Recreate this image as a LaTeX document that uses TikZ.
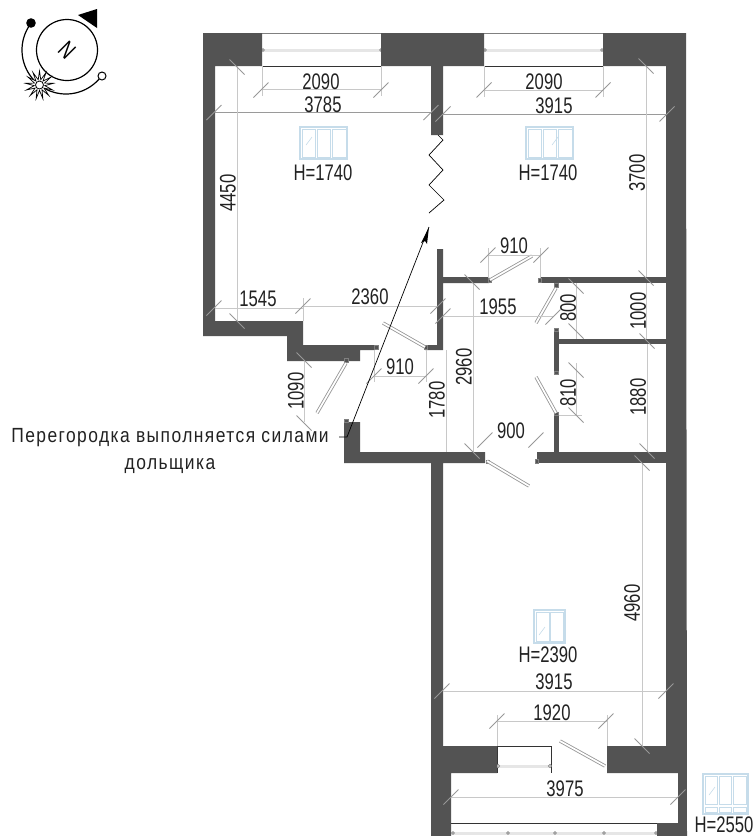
\documentclass[tikz,border=0pt]{standalone}
\usepackage{fontspec}
\setmainfont[FakeStretch=0.74]{Liberation Sans}
\newfontfamily\notefont[FakeStretch=0.85,LetterSpace=7]{Liberation Sans}
\usetikzlibrary{shapes.geometric}
\definecolor{wallc}{HTML}{535353}
\definecolor{dimc}{HTML}{C8C8C8}
\definecolor{tickc}{HTML}{989898}
\definecolor{darkdim}{HTML}{9A9A9A}
\definecolor{barc}{HTML}{E6E6E6}
\definecolor{winc}{HTML}{C6DCEA}
\definecolor{txtc}{HTML}{222222}
\tikzset{
  wall/.style={fill=wallc,draw=none},
  dimln/.style={draw=dimc,line width=0.8pt},
  tickln/.style={draw=tickc,line width=0.8pt},
  lbl/.style={font=\fontsize{22.5}{24}\selectfont,text=txtc,inner sep=0pt},
  lblv/.style={lbl,rotate=90},
  leaf/.style={draw=tickc,line width=3.4pt},
  leafin/.style={draw=white,line width=1.7pt},
  winline/.style={draw=black!80,line width=0.7pt},
  winbar/.style={draw=barc,line width=3pt},
  knob/.style={draw=gray,fill=white,line width=0.7pt},
  icon/.style={draw=winc,line width=0.9pt},
  iconb/.style={draw=winc,line width=1.4pt},
  hinge/.style={fill=wallc,draw=gray,line width=0.5pt},
}
\newcommand\tf[2]{\draw[tickln] ({#1-7.5},{#2+7.5}) -- ({#1+7.5},{#2-7.5});}
\newcommand\tb[2]{\draw[tickln] ({#1-7.5},{#2-7.5}) -- ({#1+7.5},{#2+7.5});}
\newcommand\doorleaf[4]{\draw[leaf] (#1,#2) -- (#3,#4); \draw[leafin] (#1,#2) -- (#3,#4);}
\newcommand\threeicon[4]{% x0 y0 x1 y1
  \draw[iconb] (#1,#2) rectangle (#3,#4);
  \foreach \k in {0,1,2}{\draw[icon] ({#1+2+\k*(#3-#1-1)/3},{#2+2}) rectangle ({#1+(\k+1)*(#3-#1-1)/3},{#4-2});}
}
\begin{document}
\begin{tikzpicture}[x=1pt,y=-1pt]
\useasboundingbox (0,0) rectangle (755,836);
\fill[white] (0,0) rectangle (755,836);
% ---- compass
\draw[line width=1.2pt] (67,50) circle (30.5);
\node[font=\fontsize{24}{24}\selectfont,rotate=-45,inner sep=0pt] (north) at (67,50) {N};
\draw[line width=1.2pt] plot[smooth,domain=218:36,samples=60] ({66+44*cos(\x)},{50+44*sin(\x)});
\fill (78,15) -- (97,9) -- (97,28) -- cycle;
\fill (31,23) circle (4.8);
\draw[fill=white,line width=1pt] (102,76) circle (4);
\node[star,star points=13,star point ratio=2.6,minimum size=28pt,inner sep=0pt,draw=black,fill=white,line width=0.7pt] (sun) at (39.5,85) {};
\draw[fill=white,line width=0.8pt] (39.5,85) circle (4);
% ---- window openings
\draw[draw=gray,line width=0.8pt] (262,33) -- (381,33);
\draw[draw=gray,line width=0.8pt] (484,33) -- (603,33);
\draw[winbar] (262,50) -- (381,50);
\draw[winbar] (484,50) -- (603,50);
\draw[winline] (262,66) -- (381,66);
\draw[winline] (484,66) -- (603,66);
\draw[winline] (497,746) -- (551,746) -- (551,773);
\draw[winline] (497,746) -- (497,773);
\draw[winbar] (497,766) -- (551,766);
\draw[winline] (451,823) -- (657,823);
\draw[winbar] (451,833) -- (657,833);
\foreach \x in {263,381}{\draw[knob] (\x,50) circle (1.4);}
\foreach \x in {485,602}{\draw[knob] (\x,50) circle (1.4);}
\foreach \x in {498,550}{\draw[knob] (\x,766) circle (1.6);}
\foreach \x in {453,508,555,604,656}{\draw[knob] (\x,833) circle (1.4);}
% ---- walls
\fill[wall] (203,33) -- (262,33) -- (262,66) -- (215,66) -- (215,321) -- (303,321) -- (303,345) -- (375,345) -- (375,350) -- (360,350) -- (360,361) -- (287,361) -- (287,336) -- (203,336) -- cycle;
\fill[wall] (381,33) -- (484,33) -- (484,66) -- (443,66) -- (443,135) -- (431,135) -- (431,66) -- (381,66) -- cycle;
\fill[wall] (603,33) -- (686,33) -- (687,836) -- (657,836) -- (657,823) -- (678,823) -- (678,773) -- (607,773) -- (607,746) -- (666,746) -- (666,66) -- (603,66) -- cycle;
\fill[wall] (344,422) -- (360,422) -- (360,452) -- (485,452) -- (485,463) -- (443,463) -- (443,746) -- (497,746) -- (497,773) -- (451,773) -- (451,836) -- (431,836) -- (431,463) -- (344,463) -- cycle;
\fill[wall] (425,345) -- (437,345) -- (437,249) -- (443,249) -- (443,277) -- (489,277) -- (489,283) -- (443,283) -- (443,350) -- (425,350) -- cycle;
\fill[wall] (540,277) rectangle (666,283);
\fill[wall] (559,339) rectangle (666,344);
\fill[wall] (554,328) rectangle (559,373);
\fill[wall] (554,415) rectangle (559,452);
\fill[wall] (537,452) rectangle (666,463);
% ---- hinges
\draw[hinge] (488,278) rectangle (491,282);
\draw[hinge] (538,278) rectangle (541,282);
\draw[hinge] (554,283.5) rectangle (558,287.5);
\draw[hinge] (554.5,328) rectangle (558.5,331);
\draw[hinge] (554.5,371) rectangle (558.5,374);
\draw[hinge] (554.5,412.5) rectangle (558.5,415.5);
\draw[hinge] (486,460) rectangle (489,463);
\draw[hinge] (535.5,459) rectangle (538.5,463);
\draw[hinge] (374,345.5) rectangle (378,349.5);
\draw[hinge] (424,345.5) rectangle (427,349.5);
\draw[hinge] (344,358.5) rectangle (348,362);
\draw[hinge] (344,419.5) rectangle (348,422.5);
% ---- door leaves
\doorleaf{490}{280}{532}{256}
\doorleaf{556}{288}{536}{323}
\doorleaf{556}{413}{536}{377}
\doorleaf{487}{461}{529}{486}
\doorleaf{425}{347}{383}{323}
\doorleaf{346}{363}{317}{413}
\doorleaf{605}{766}{560}{741}
% ---- dimension lines (horizontal)
\draw[dimln] (262,66) -- (262,96) (381,66) -- (381,96) (262,89) -- (381,89);
\draw[dimln] (484,66) -- (484,97) (603,66) -- (603,97) (484,90) -- (603,90);
\draw[draw=darkdim,line width=0.8pt] (215,112.5) -- (431,112.5);
\draw[draw=darkdim,line width=0.8pt] (443,114) -- (666,114);
\draw[dimln] (215,308) -- (303,308) (303,321) -- (303,298);
\draw[dimln] (303,306) -- (437,306);
\draw[dimln] (443,316) -- (554,316);
\draw[dimln] (374,350) -- (374,382) (426,350) -- (426,382) (374,376) -- (426,376);
\draw[dimln] (488,248) -- (488,278) (540,248) -- (540,278) (488,255) -- (540,255);
\draw[dimln] (443,691) -- (666,691);
\draw[dimln] (497,746) -- (497,715) (607,746) -- (607,715) (497,721) -- (607,721);
\draw[dimln] (451,797) -- (678,797);
% vertical
\draw[dimln] (237,66) -- (237,321);
\draw[dimln] (646,66) -- (646,277);
\draw[dimln] (646,283) -- (646,339);
\draw[dimln] (647,344) -- (647,452);
\draw[dimln] (642,463) -- (642,746);
\draw[dimln] (576,283) -- (576,339);
\draw[dimln] (576,363) -- (576,415) (559,415) -- (582,415);
\draw[dimln] (446,350) -- (446,452);
\draw[dimln] (473,283) -- (473,452);
\draw[dimln] (304,361) -- (304,422);
% ---- ticks
\tf{261}{90}\tf{381}{90}\tf{484}{90}\tf{603}{90}
\tf{214}{112.5}\tf{431}{112.5}\tf{443}{114}\tf{667}{114}
\tf{214}{308}\tf{303}{306}\tf{438}{306}\tf{443}{316}\tf{553}{317}
\tb{237}{67}\tb{237}{321}\tb{646}{66}\tb{646}{278}\tb{647}{341}\tb{647}{451}\tb{642}{463}\tb{642}{746}
\tb{576}{286}\tb{576}{331}\tb{576}{370}\tb{576}{415}
\tb{472}{282}\tb{472}{451}\tb{304}{360}\tb{304}{423}
\tf{374}{376}\tf{426}{376}\tf{488}{255}\tf{541}{255}
\tf{485}{440}\tf{536}{440}
\tf{442}{691}\tf{666}{691}\tf{497}{721}\tf{606}{721}\tf{451}{797}\tf{678}{797}
% ---- zig-zag
\draw[line width=0.7pt] (438,135) -- (443,140) -- (429,155) -- (443,170) -- (429,185) -- (444,200) -- (429,213);
% ---- leader arrow
\coordinate (leadstart) at (339,437);
\coordinate (leadbend) at (347,437);
\coordinate (leadtip) at (429,227);
\draw[line width=0.7pt] (leadstart) -- (leadbend) -- (leadtip);
\fill (429,227) -- (421,243) -- (425,241) -- (427,244) -- cycle;
% ---- icons
\threeicon{300}{127}{347}{159}
\threeicon{526}{127}{573}{159}
\draw[iconb] (534,610) rectangle (565,643);
\draw[icon] (536,612) rectangle (549,641) (550,612) rectangle (563,641);
\draw[iconb] (703,774) rectangle (748,814);
\foreach \k in {0,1,2}{\draw[icon] ({705+\k*14.3},776) rectangle ({717.5+\k*14.3},804);
  \draw[icon] ({705+\k*14.3},807) rectangle ({717.5+\k*14.3},812);}
\foreach \a/\b in {306/145,552/145,539/635,709/795}{\draw[winc,line width=0.6pt] (\a,\b) -- (\a+6,\b-8);}
% ---- labels
\node[lbl] (t2090a) at (321,81.5) {2090};
\node[lbl] (t3785) at (323,105) {3785};
\node[lbl] (t2090b) at (544,81.5) {2090};
\node[lbl] (t3915a) at (554,106) {3915};
\node[lbl] (h1) at (323,173) {H=1740};
\node[lbl] (h2) at (548,173) {H=1740};
\node[lblv] (t4450) at (228,193) {4450};
\node[lblv] (t3700) at (637,173) {3700};
\node[lbl] (t910a) at (514,246) {910};
\node[lbl] (t1545) at (258,299) {1545};
\node[lbl] (t2360) at (370,297) {2360};
\node[lbl] (t1955) at (498,307) {1955};
\node[lblv] (t800) at (568,308) {800};
\node[lblv] (t1000) at (638,311) {1000};
\node[lbl] (t910b) at (400,367) {910};
\node[lblv] (t2960) at (464,367) {2960};
\node[lblv] (t1780) at (437,400) {1780};
\node[lblv] (t1090) at (296,391) {1090};
\node[lblv] (t810) at (568,393) {810};
\node[lblv] (t1880) at (638,397) {1880};
\node[lbl] (t900) at (511,431) {900};
\node[lblv] (t4960) at (632,603) {4960};
\node[lbl] (h3) at (548,655) {H=2390};
\node[lbl] (t3915b) at (554,682) {3915};
\node[lbl] (t1920) at (552,713) {1920};
\node[lbl] (t3975) at (565,789) {3975};
\node[lbl] (h4) at (724,825) {H=2550};
\node[text=txtc,inner sep=0pt,align=center,font=\notefont\fontsize{20.5}{27}\selectfont] (note) at (170,451) {Перегородка выполняется силами\\дольщика};
\end{tikzpicture}
\end{document}
